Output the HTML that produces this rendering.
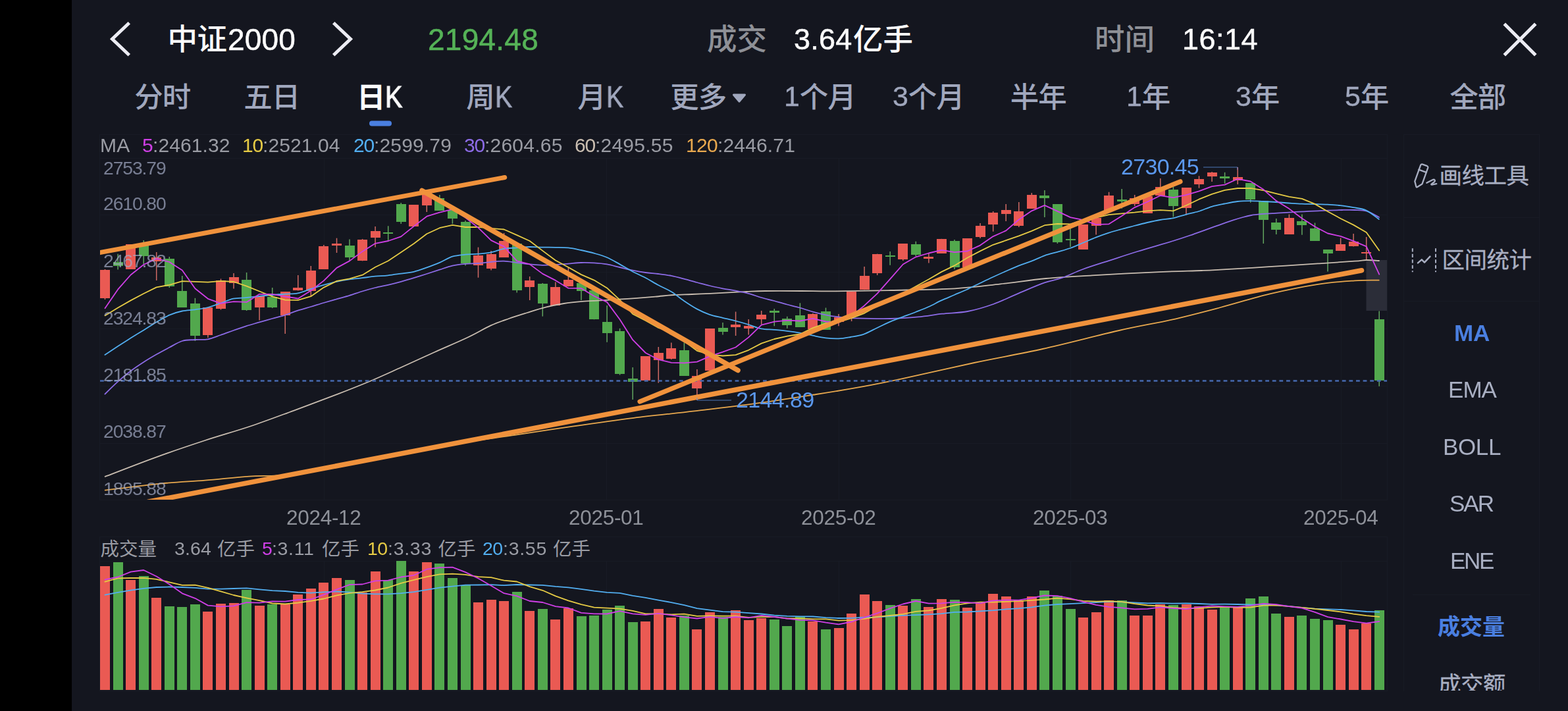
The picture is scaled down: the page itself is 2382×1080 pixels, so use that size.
<!DOCTYPE html>
<html lang="zh"><head><meta charset="utf-8"><title>中证2000 日K</title>
<style>
html,body{margin:0;padding:0;background:#000;}
body{width:2382px;height:1080px;position:relative;overflow:hidden;font-family:"Liberation Sans",sans-serif;}
#app{position:absolute;left:109px;top:0;width:2273px;height:1080px;background:#14161f;}
svg{position:absolute;left:0;top:0;}
svg text{font-family:"Liberation Sans","Noto Sans CJK SC",sans-serif;}
.t{position:absolute;white-space:nowrap;line-height:1;will-change:transform;}
</style></head><body>
<div id="app"></div>
<svg width="2382" height="1080" viewBox="0 0 2382 1080">
<defs><clipPath id="clipc"><rect x="152" y="205" width="1955" height="554"/></clipPath><clipPath id="clips"><rect x="2133" y="205" width="205" height="844"/></clipPath></defs>
<g shape-rendering="crispEdges">
<rect x="151.5" y="204.5" width="1956" height="555" fill="none" stroke="#181b25" stroke-width="1"/>
<line x1="152" y1="240" x2="2107" y2="240" stroke="#181b25" stroke-width="1" />
<line x1="152" y1="326.5" x2="2107" y2="326.5" stroke="#181b25" stroke-width="1" />
<line x1="152" y1="413" x2="2107" y2="413" stroke="#181b25" stroke-width="1" />
<line x1="152" y1="499.5" x2="2107" y2="499.5" stroke="#181b25" stroke-width="1" />
<line x1="152" y1="586" x2="2107" y2="586" stroke="#181b25" stroke-width="1" />
<line x1="152" y1="673" x2="2107" y2="673" stroke="#181b25" stroke-width="1" />
<line x1="492" y1="240" x2="492" y2="759" stroke="#181b25" stroke-width="1" />
<line x1="492" y1="852" x2="492" y2="1049" stroke="#181b25" stroke-width="1" />
<line x1="921" y1="240" x2="921" y2="759" stroke="#181b25" stroke-width="1" />
<line x1="921" y1="852" x2="921" y2="1049" stroke="#181b25" stroke-width="1" />
<line x1="1274" y1="240" x2="1274" y2="759" stroke="#181b25" stroke-width="1" />
<line x1="1274" y1="852" x2="1274" y2="1049" stroke="#181b25" stroke-width="1" />
<line x1="1626" y1="240" x2="1626" y2="759" stroke="#181b25" stroke-width="1" />
<line x1="1626" y1="852" x2="1626" y2="1049" stroke="#181b25" stroke-width="1" />
<line x1="2037" y1="240" x2="2037" y2="759" stroke="#181b25" stroke-width="1" />
<line x1="2037" y1="852" x2="2037" y2="1049" stroke="#181b25" stroke-width="1" />
<rect x="151.5" y="815.5" width="1956" height="234" fill="none" stroke="#181b25" stroke-width="1"/>
<line x1="152" y1="852" x2="2107" y2="852" stroke="#181b25" stroke-width="1" />
<path d="M2132.5 1049.5V204.5H2338.5V1049.5" fill="none" stroke="#181b25" stroke-width="1"/>
<line x1="2133" y1="330.5" x2="2338" y2="330.5" stroke="#181b25" stroke-width="1" />
<line x1="2133" y1="457.5" x2="2338" y2="457.5" stroke="#181b25" stroke-width="1" />
<line x1="2146" y1="903.5" x2="2325" y2="903.5" stroke="#181b25" stroke-width="1" />
</g>
<rect x="2075.5" y="395" width="31.5" height="77" fill="#2b2d38" />
<line x1="159.5" y1="409" x2="159.5" y2="455" stroke="#d06a64" stroke-width="1.5" />
<line x1="179.1" y1="385.8" x2="179.1" y2="409.4" stroke="#62a65f" stroke-width="1.5" />
<line x1="198.6" y1="371" x2="198.6" y2="408.6" stroke="#d06a64" stroke-width="1.5" />
<line x1="218.2" y1="365" x2="218.2" y2="401" stroke="#62a65f" stroke-width="1.5" />
<line x1="237.7" y1="383" x2="237.7" y2="426" stroke="#d06a64" stroke-width="1.5" />
<line x1="257.3" y1="390" x2="257.3" y2="437" stroke="#62a65f" stroke-width="1.5" />
<line x1="276.8" y1="419" x2="276.8" y2="467" stroke="#62a65f" stroke-width="1.5" />
<line x1="296.4" y1="452.8" x2="296.4" y2="518" stroke="#62a65f" stroke-width="1.5" />
<line x1="315.9" y1="466.7" x2="315.9" y2="513" stroke="#d06a64" stroke-width="1.5" />
<line x1="335.5" y1="423.5" x2="335.5" y2="470.5" stroke="#d06a64" stroke-width="1.5" />
<line x1="355" y1="415" x2="355" y2="438.6" stroke="#d06a64" stroke-width="1.5" />
<line x1="374.6" y1="414" x2="374.6" y2="472" stroke="#62a65f" stroke-width="1.5" />
<line x1="394.1" y1="449.5" x2="394.1" y2="486.4" stroke="#d06a64" stroke-width="1.5" />
<line x1="413.7" y1="437" x2="413.7" y2="468" stroke="#62a65f" stroke-width="1.5" />
<line x1="433.2" y1="443" x2="433.2" y2="507" stroke="#d06a64" stroke-width="1.5" />
<line x1="452.8" y1="418" x2="452.8" y2="441.5" stroke="#d06a64" stroke-width="1.5" />
<line x1="472.3" y1="404" x2="472.3" y2="450" stroke="#d06a64" stroke-width="1.5" />
<line x1="491.9" y1="372" x2="491.9" y2="408.6" stroke="#d06a64" stroke-width="1.5" />
<line x1="511.5" y1="361.7" x2="511.5" y2="384" stroke="#d06a64" stroke-width="1.5" />
<line x1="531" y1="363.6" x2="531" y2="397" stroke="#62a65f" stroke-width="1.5" />
<line x1="550.6" y1="363" x2="550.6" y2="396.4" stroke="#d06a64" stroke-width="1.5" />
<line x1="570.1" y1="344" x2="570.1" y2="375.5" stroke="#d06a64" stroke-width="1.5" />
<line x1="589.7" y1="343.3" x2="589.7" y2="367" stroke="#62a65f" stroke-width="1.5" />
<line x1="609.2" y1="308" x2="609.2" y2="340" stroke="#62a65f" stroke-width="1.5" />
<line x1="628.8" y1="311.4" x2="628.8" y2="343.6" stroke="#d06a64" stroke-width="1.5" />
<line x1="648.3" y1="288" x2="648.3" y2="322" stroke="#d06a64" stroke-width="1.5" />
<line x1="667.9" y1="296" x2="667.9" y2="319.7" stroke="#62a65f" stroke-width="1.5" />
<line x1="687.4" y1="312" x2="687.4" y2="340" stroke="#62a65f" stroke-width="1.5" />
<line x1="707" y1="335" x2="707" y2="403.6" stroke="#62a65f" stroke-width="1.5" />
<line x1="726.5" y1="375.6" x2="726.5" y2="421.7" stroke="#d06a64" stroke-width="1.5" />
<line x1="746.1" y1="381" x2="746.1" y2="410.6" stroke="#d06a64" stroke-width="1.5" />
<line x1="765.6" y1="354" x2="765.6" y2="390.8" stroke="#d06a64" stroke-width="1.5" />
<line x1="785.2" y1="368" x2="785.2" y2="444.4" stroke="#62a65f" stroke-width="1.5" />
<line x1="804.7" y1="420" x2="804.7" y2="456" stroke="#d06a64" stroke-width="1.5" />
<line x1="824.3" y1="430" x2="824.3" y2="480.6" stroke="#62a65f" stroke-width="1.5" />
<line x1="843.9" y1="428.6" x2="843.9" y2="464" stroke="#d06a64" stroke-width="1.5" />
<line x1="863.4" y1="406.4" x2="863.4" y2="435.3" stroke="#d06a64" stroke-width="1.5" />
<line x1="883" y1="428" x2="883" y2="456" stroke="#62a65f" stroke-width="1.5" />
<line x1="902.5" y1="440" x2="902.5" y2="485.3" stroke="#62a65f" stroke-width="1.5" />
<line x1="922.1" y1="464" x2="922.1" y2="519.7" stroke="#62a65f" stroke-width="1.5" />
<line x1="941.6" y1="498.8" x2="941.6" y2="569.6" stroke="#62a65f" stroke-width="1.5" />
<line x1="961.2" y1="558" x2="961.2" y2="607" stroke="#62a65f" stroke-width="1.5" />
<line x1="980.7" y1="541" x2="980.7" y2="579" stroke="#d06a64" stroke-width="1.5" />
<line x1="1000.3" y1="527" x2="1000.3" y2="581.6" stroke="#d06a64" stroke-width="1.5" />
<line x1="1019.8" y1="520.5" x2="1019.8" y2="546" stroke="#d06a64" stroke-width="1.5" />
<line x1="1039.4" y1="520.4" x2="1039.4" y2="570.5" stroke="#62a65f" stroke-width="1.5" />
<line x1="1058.9" y1="561" x2="1058.9" y2="608" stroke="#d06a64" stroke-width="1.5" />
<line x1="1078.5" y1="499.4" x2="1078.5" y2="563" stroke="#d06a64" stroke-width="1.5" />
<line x1="1098" y1="490" x2="1098" y2="508.4" stroke="#62a65f" stroke-width="1.5" />
<line x1="1117.6" y1="473.5" x2="1117.6" y2="510" stroke="#d06a64" stroke-width="1.5" />
<line x1="1137.2" y1="485" x2="1137.2" y2="508.4" stroke="#d06a64" stroke-width="1.5" />
<line x1="1156.7" y1="472" x2="1156.7" y2="492.7" stroke="#d06a64" stroke-width="1.5" />
<line x1="1176.3" y1="469" x2="1176.3" y2="495.3" stroke="#62a65f" stroke-width="1.5" />
<line x1="1195.8" y1="480.8" x2="1195.8" y2="498.7" stroke="#62a65f" stroke-width="1.5" />
<line x1="1215.4" y1="460.3" x2="1215.4" y2="497" stroke="#62a65f" stroke-width="1.5" />
<line x1="1234.9" y1="476" x2="1234.9" y2="499.7" stroke="#d06a64" stroke-width="1.5" />
<line x1="1254.5" y1="467.5" x2="1254.5" y2="500.6" stroke="#62a65f" stroke-width="1.5" />
<line x1="1274" y1="477" x2="1274" y2="495.3" stroke="#d06a64" stroke-width="1.5" />
<line x1="1293.6" y1="442.7" x2="1293.6" y2="488" stroke="#d06a64" stroke-width="1.5" />
<line x1="1313.1" y1="405" x2="1313.1" y2="440.2" stroke="#d06a64" stroke-width="1.5" />
<line x1="1332.7" y1="385.6" x2="1332.7" y2="418" stroke="#d06a64" stroke-width="1.5" />
<line x1="1352.2" y1="382" x2="1352.2" y2="402.8" stroke="#62a65f" stroke-width="1.5" />
<line x1="1371.8" y1="370" x2="1371.8" y2="396" stroke="#d06a64" stroke-width="1.5" />
<line x1="1391.3" y1="366.7" x2="1391.3" y2="389" stroke="#62a65f" stroke-width="1.5" />
<line x1="1410.9" y1="384.7" x2="1410.9" y2="399.4" stroke="#d06a64" stroke-width="1.5" />
<line x1="1430.4" y1="362.8" x2="1430.4" y2="384.7" stroke="#d06a64" stroke-width="1.5" />
<line x1="1450" y1="364" x2="1450" y2="409" stroke="#62a65f" stroke-width="1.5" />
<line x1="1469.6" y1="362" x2="1469.6" y2="406" stroke="#d06a64" stroke-width="1.5" />
<line x1="1489.1" y1="339" x2="1489.1" y2="362" stroke="#d06a64" stroke-width="1.5" />
<line x1="1508.7" y1="321" x2="1508.7" y2="351.7" stroke="#d06a64" stroke-width="1.5" />
<line x1="1528.2" y1="310" x2="1528.2" y2="336" stroke="#d06a64" stroke-width="1.5" />
<line x1="1547.8" y1="307" x2="1547.8" y2="345" stroke="#d06a64" stroke-width="1.5" />
<line x1="1567.3" y1="293" x2="1567.3" y2="316.7" stroke="#d06a64" stroke-width="1.5" />
<line x1="1586.9" y1="289" x2="1586.9" y2="330" stroke="#62a65f" stroke-width="1.5" />
<line x1="1606.4" y1="310" x2="1606.4" y2="370" stroke="#62a65f" stroke-width="1.5" />
<line x1="1626" y1="346.7" x2="1626" y2="375" stroke="#62a65f" stroke-width="1.5" />
<line x1="1645.5" y1="341" x2="1645.5" y2="378.6" stroke="#d06a64" stroke-width="1.5" />
<line x1="1665.1" y1="328" x2="1665.1" y2="356.4" stroke="#d06a64" stroke-width="1.5" />
<line x1="1684.6" y1="291.7" x2="1684.6" y2="321" stroke="#d06a64" stroke-width="1.5" />
<line x1="1704.2" y1="287" x2="1704.2" y2="316.7" stroke="#62a65f" stroke-width="1.5" />
<line x1="1723.7" y1="296" x2="1723.7" y2="313" stroke="#d06a64" stroke-width="1.5" />
<line x1="1743.3" y1="298" x2="1743.3" y2="324" stroke="#d06a64" stroke-width="1.5" />
<line x1="1762.8" y1="271" x2="1762.8" y2="297" stroke="#d06a64" stroke-width="1.5" />
<line x1="1782.4" y1="284" x2="1782.4" y2="329.4" stroke="#62a65f" stroke-width="1.5" />
<line x1="1802" y1="285" x2="1802" y2="326.5" stroke="#d06a64" stroke-width="1.5" />
<line x1="1821.5" y1="267.3" x2="1821.5" y2="285.6" stroke="#d06a64" stroke-width="1.5" />
<line x1="1841.1" y1="261" x2="1841.1" y2="276" stroke="#d06a64" stroke-width="1.5" />
<line x1="1860.6" y1="261.8" x2="1860.6" y2="278.8" stroke="#62a65f" stroke-width="1.5" />
<line x1="1880.2" y1="254" x2="1880.2" y2="280" stroke="#d06a64" stroke-width="1.5" />
<line x1="1899.7" y1="278" x2="1899.7" y2="307.8" stroke="#62a65f" stroke-width="1.5" />
<line x1="1919.3" y1="305" x2="1919.3" y2="370" stroke="#62a65f" stroke-width="1.5" />
<line x1="1938.8" y1="332" x2="1938.8" y2="356" stroke="#62a65f" stroke-width="1.5" />
<line x1="1958.4" y1="325.5" x2="1958.4" y2="356" stroke="#d06a64" stroke-width="1.5" />
<line x1="1977.9" y1="325.5" x2="1977.9" y2="356.7" stroke="#62a65f" stroke-width="1.5" />
<line x1="1997.5" y1="338.5" x2="1997.5" y2="366" stroke="#62a65f" stroke-width="1.5" />
<line x1="2017" y1="379" x2="2017" y2="412.6" stroke="#62a65f" stroke-width="1.5" />
<line x1="2036.6" y1="361.5" x2="2036.6" y2="381" stroke="#d06a64" stroke-width="1.5" />
<line x1="2056.1" y1="355" x2="2056.1" y2="374.4" stroke="#d06a64" stroke-width="1.5" />
<line x1="2075.7" y1="360" x2="2075.7" y2="395" stroke="#d06a64" stroke-width="1.5" />
<line x1="2095.2" y1="472.6" x2="2095.2" y2="586.7" stroke="#62a65f" stroke-width="1.5" />
<g shape-rendering="crispEdges">
<rect x="152" y="410.3" width="15" height="42.2" fill="#ea5a53" />
<rect x="171.6" y="397.8" width="15" height="6.1" fill="#52a84d" />
<rect x="191.1" y="371" width="15" height="37.6" fill="#ea5a53" />
<rect x="210.7" y="369" width="15" height="19.6" fill="#52a84d" />
<rect x="230.2" y="390.5" width="15" height="6.5" fill="#ea5a53" />
<rect x="249.8" y="392.8" width="15" height="42.5" fill="#52a84d" />
<rect x="269.3" y="442" width="15" height="25" fill="#52a84d" />
<rect x="288.9" y="460.6" width="15" height="49.1" fill="#52a84d" />
<rect x="308.4" y="466.7" width="15" height="42.5" fill="#ea5a53" />
<rect x="328" y="426" width="15" height="43" fill="#ea5a53" />
<rect x="347.5" y="421" width="15" height="8.5" fill="#ea5a53" />
<rect x="367.1" y="424.5" width="15" height="46.5" fill="#52a84d" />
<rect x="386.6" y="449.5" width="15" height="17.8" fill="#ea5a53" />
<rect x="406.2" y="451" width="15" height="16" fill="#52a84d" />
<rect x="425.7" y="443" width="15" height="35.5" fill="#ea5a53" />
<rect x="445.3" y="437" width="15" height="4" fill="#ea5a53" />
<rect x="464.8" y="411" width="15" height="31" fill="#ea5a53" />
<rect x="484.4" y="374" width="15" height="34.6" fill="#ea5a53" />
<rect x="504" y="369.7" width="15" height="2.8" fill="#ea5a53" />
<rect x="523.5" y="372.8" width="15" height="17.7" fill="#52a84d" />
<rect x="543.1" y="364.4" width="15" height="32" fill="#ea5a53" />
<rect x="562.6" y="350.5" width="15" height="10.5" fill="#ea5a53" />
<rect x="582.2" y="353.3" width="15" height="1.5" fill="#52a84d" />
<rect x="601.7" y="310" width="15" height="27" fill="#52a84d" />
<rect x="621.3" y="311.4" width="15" height="32.2" fill="#ea5a53" />
<rect x="640.8" y="290" width="15" height="21.7" fill="#ea5a53" />
<rect x="660.4" y="301" width="15" height="18.7" fill="#52a84d" />
<rect x="679.9" y="319" width="15" height="12.5" fill="#52a84d" />
<rect x="699.5" y="337" width="15" height="63" fill="#52a84d" />
<rect x="719" y="388.3" width="15" height="14.5" fill="#ea5a53" />
<rect x="738.6" y="386" width="15" height="21.8" fill="#ea5a53" />
<rect x="758.1" y="366" width="15" height="24.8" fill="#ea5a53" />
<rect x="777.7" y="370" width="15" height="71" fill="#52a84d" />
<rect x="797.2" y="425.8" width="15" height="10.2" fill="#ea5a53" />
<rect x="816.8" y="430.6" width="15" height="30" fill="#52a84d" />
<rect x="836.4" y="436" width="15" height="28" fill="#ea5a53" />
<rect x="855.9" y="425" width="15" height="10.3" fill="#ea5a53" />
<rect x="875.5" y="430" width="15" height="12" fill="#52a84d" />
<rect x="895" y="441" width="15" height="44.3" fill="#52a84d" />
<rect x="914.6" y="489.3" width="15" height="16.9" fill="#52a84d" />
<rect x="934.1" y="503" width="15" height="65.2" fill="#52a84d" />
<rect x="953.7" y="575.4" width="15" height="4.1" fill="#52a84d" />
<rect x="973.2" y="541" width="15" height="36.7" fill="#ea5a53" />
<rect x="992.8" y="536.3" width="15" height="10.7" fill="#ea5a53" />
<rect x="1012.3" y="529" width="15" height="16" fill="#ea5a53" />
<rect x="1031.9" y="532.3" width="15" height="38.2" fill="#52a84d" />
<rect x="1051.4" y="571" width="15" height="19" fill="#ea5a53" />
<rect x="1071" y="499.4" width="15" height="63.6" fill="#ea5a53" />
<rect x="1090.5" y="498.4" width="15" height="5.1" fill="#52a84d" />
<rect x="1110.1" y="493" width="15" height="3.7" fill="#ea5a53" />
<rect x="1129.7" y="494.9" width="15" height="4.5" fill="#ea5a53" />
<rect x="1149.2" y="477.6" width="15" height="6.9" fill="#ea5a53" />
<rect x="1168.8" y="471.5" width="15" height="3" fill="#52a84d" />
<rect x="1188.3" y="484" width="15" height="9.6" fill="#52a84d" />
<rect x="1207.9" y="478.6" width="15" height="18.4" fill="#52a84d" />
<rect x="1227.4" y="477" width="15" height="22.7" fill="#ea5a53" />
<rect x="1247" y="472.8" width="15" height="27.8" fill="#52a84d" />
<rect x="1266.5" y="481.5" width="15" height="7" fill="#ea5a53" />
<rect x="1286.1" y="442.7" width="15" height="35.8" fill="#ea5a53" />
<rect x="1305.6" y="419" width="15" height="21.2" fill="#ea5a53" />
<rect x="1325.2" y="385.6" width="15" height="29.1" fill="#ea5a53" />
<rect x="1344.7" y="387.8" width="15" height="2.2" fill="#52a84d" />
<rect x="1364.3" y="370" width="15" height="24" fill="#ea5a53" />
<rect x="1383.8" y="370.8" width="15" height="16.2" fill="#52a84d" />
<rect x="1403.4" y="389.7" width="15" height="3.3" fill="#ea5a53" />
<rect x="1422.9" y="362.8" width="15" height="21.9" fill="#ea5a53" />
<rect x="1442.5" y="366" width="15" height="39.8" fill="#52a84d" />
<rect x="1462.1" y="362" width="15" height="44" fill="#ea5a53" />
<rect x="1481.6" y="342.5" width="15" height="17.5" fill="#ea5a53" />
<rect x="1501.2" y="322.5" width="15" height="18.1" fill="#ea5a53" />
<rect x="1520.7" y="319.4" width="15" height="5.9" fill="#ea5a53" />
<rect x="1540.3" y="321" width="15" height="22" fill="#ea5a53" />
<rect x="1559.8" y="296" width="15" height="20.7" fill="#ea5a53" />
<rect x="1579.4" y="297" width="15" height="3.8" fill="#52a84d" />
<rect x="1598.9" y="310" width="15" height="57.5" fill="#52a84d" />
<rect x="1618.5" y="363.3" width="15" height="2" fill="#52a84d" />
<rect x="1638" y="341" width="15" height="37.6" fill="#ea5a53" />
<rect x="1657.6" y="331" width="15" height="11.5" fill="#ea5a53" />
<rect x="1677.1" y="296.7" width="15" height="24.3" fill="#ea5a53" />
<rect x="1696.7" y="303" width="15" height="2.8" fill="#52a84d" />
<rect x="1716.2" y="300.8" width="15" height="9.2" fill="#ea5a53" />
<rect x="1735.8" y="298" width="15" height="26" fill="#ea5a53" />
<rect x="1755.3" y="283.6" width="15" height="13.4" fill="#ea5a53" />
<rect x="1774.9" y="287.5" width="15" height="25.5" fill="#52a84d" />
<rect x="1794.5" y="285" width="15" height="30.6" fill="#ea5a53" />
<rect x="1814" y="272" width="15" height="7.7" fill="#ea5a53" />
<rect x="1833.6" y="262.3" width="15" height="5.7" fill="#ea5a53" />
<rect x="1853.1" y="267.5" width="15" height="3.2" fill="#52a84d" />
<rect x="1872.7" y="269" width="15" height="4.7" fill="#ea5a53" />
<rect x="1892.2" y="278" width="15" height="25.3" fill="#52a84d" />
<rect x="1911.8" y="305" width="15" height="28.7" fill="#52a84d" />
<rect x="1931.3" y="338" width="15" height="11" fill="#52a84d" />
<rect x="1950.9" y="330.7" width="15" height="25.3" fill="#ea5a53" />
<rect x="1970.4" y="336" width="15" height="6" fill="#52a84d" />
<rect x="1990" y="346.7" width="15" height="19.3" fill="#52a84d" />
<rect x="2009.5" y="379" width="15" height="6" fill="#52a84d" />
<rect x="2029.1" y="370.7" width="15" height="10.3" fill="#ea5a53" />
<rect x="2048.6" y="367" width="15" height="7.4" fill="#ea5a53" />
<rect x="2068.2" y="382.6" width="15" height="2.4" fill="#ea5a53" />
<rect x="2087.7" y="484.8" width="15" height="93.2" fill="#52a84d" />
</g>
<g clip-path="url(#clipc)">
<path d="M159.7 744.7C173.8 743 218.7 737.1 244 734.6C269.3 732.1 289.1 731.4 311.5 729.6C333.9 727.8 356.3 725.2 378.7 723.6C401.1 722 412.4 724.6 446 719.8C479.6 714.9 540.8 701.8 580 694.5C619.2 687.2 647.4 681.4 681 675.8C714.6 670.2 750.2 665.5 781.7 660.8C813.2 656.1 839.9 651.9 870 647.6C900.1 643.3 931.8 638.8 962.6 634.9C993.4 631 1024.1 628.1 1055 624.4C1085.9 620.7 1117 617.1 1147.8 612.9C1178.6 608.7 1213 603.2 1240 599C1267 594.8 1288.1 591.3 1309.8 587.4C1331.5 583.5 1341.6 581.5 1370 575.4C1398.4 569.3 1444.3 558.6 1480 551C1515.7 543.4 1547.3 538.2 1584 530C1620.7 521.8 1667.3 509.4 1700 502C1732.7 494.6 1754.3 491.4 1780 485.6C1805.7 479.8 1829.3 473.5 1854 467C1878.7 460.5 1903.3 452.6 1928 446.7C1952.7 440.8 1980.4 435.3 2002 431.9C2023.6 428.5 2042.3 427.4 2057.8 426.3C2073.3 425.2 2088.6 425.7 2094.8 425.6" fill="none" stroke="#e8a84e" stroke-width="1.8" stroke-linejoin="round" stroke-linecap="round" />
<path d="M159.7 723.9C172.7 719 212.3 703.4 237.6 694.3C262.9 685.1 288 676.7 311.5 669C335 661.3 356.3 655.5 378.7 648C401.1 640.5 423.5 632 445.9 623.8C468.3 615.6 493.4 606.1 513 598.6C532.6 591.1 547.2 585.3 563.4 578.5C579.6 571.7 593.9 565 610 557.8C626.1 550.5 643.3 542.5 660 535C676.7 527.5 695.7 519.6 710 512.8C724.3 506 735.1 499.2 745.6 494.4C756.1 489.6 763.8 487.2 773 484C782.2 480.8 791.7 477.9 801 475C810.3 472.1 819.7 469 829 466.7C838.3 464.4 847.5 462.5 856.7 461C865.9 459.5 875.2 458.6 884.4 457.8C893.6 457 902.7 456.9 912 456.4C921.3 455.9 930.7 455.3 940 454.7C949.3 454.1 958.5 453.5 967.8 452.8C977.1 452.1 986.4 451.4 995.6 450.6C1004.9 449.8 1014.1 448.6 1023.3 448C1032.5 447.4 1041.7 447.4 1051 447C1060.3 446.6 1069.7 446.2 1079 445.8C1088.3 445.4 1097.5 444.9 1106.7 444.4C1115.9 443.9 1125.2 443.4 1134.4 443C1143.6 442.6 1148.1 442.2 1162 442C1175.9 441.8 1199.8 441.9 1217.8 442C1235.8 442.1 1247.5 442.5 1270 442.3C1292.5 442.1 1322.9 441.7 1353 441C1383.1 440.3 1422.8 439.9 1450.6 438.3C1478.4 436.7 1496.9 433.9 1520 431.4C1543.1 428.8 1565.8 425.2 1589 423C1612.2 420.8 1631.2 419.9 1659 418.3C1686.8 416.7 1728.2 414.5 1756 413.3C1783.8 412.1 1809.3 411.6 1825.6 411C1841.9 410.4 1836.9 410.6 1854 409.6C1871.1 408.6 1903.3 406.7 1928 405.2C1952.7 403.7 1980.4 401.8 2002 400.4C2023.6 399 2045.5 397.6 2057.8 396.7C2070.1 395.8 2069.8 395.1 2076 395C2082.2 394.9 2091.8 395.8 2095 396" fill="none" stroke="#c9bdb0" stroke-width="1.8" stroke-linejoin="round" stroke-linecap="round" />
<path d="M159.4 598.6C162.7 595.4 172.8 585.3 179.4 579.4C186 573.5 192.4 568.2 198.9 563.3C205.4 558.4 211.8 554.2 218.3 550C224.8 545.8 231.3 542 237.8 538.3C244.3 534.6 250.7 531.2 257.2 527.8C263.7 524.4 270.2 520 276.7 518C283.2 516 289.5 516.5 296 516C302.5 515.5 309.1 516.5 315.6 515.3C322.1 514.1 328.5 511.2 335 509C341.5 506.8 347.9 504.3 354.4 502C360.9 499.7 367.4 497.4 373.9 495.3C380.4 493.2 386.7 491.6 393.3 489.7C399.9 487.8 406.7 485.9 413.3 484C419.9 482.1 426.5 480.7 433 478.6C439.5 476.6 446 473.8 452.5 471.7C459 469.6 465.5 467.9 472 466C478.5 464.1 485.1 461.9 491.7 460C498.3 458.1 504.9 456.2 511.4 454.4C517.9 452.5 524.3 450.9 530.8 448.9C537.3 446.9 543.8 444.5 550.3 442.5C556.8 440.5 563.5 438.6 570 437C576.5 435.4 582.9 434.3 589.4 432.8C595.9 431.3 602.7 429.6 609.2 427.8C615.7 426 622.1 424.2 628.6 422.2C635.1 420.2 641.8 418.1 648.3 416C654.8 413.9 661.3 411.8 667.8 409.7C674.3 407.6 680.7 405.1 687.2 403.6C693.7 402.1 700.5 401.4 707 400.8C713.5 400.2 719.9 400.5 726.4 400C732.9 399.5 739.5 398.4 746 397.8C752.5 397.2 759 396.5 765.5 396.7C772 396.9 778.5 398.2 785 399C791.5 399.8 798.1 400.8 804.6 401.4C811.1 402 817.5 402.7 824 402.8C830.5 402.9 837.2 402.4 843.7 402C850.2 401.6 856.8 401.1 863.3 400.6C869.8 400.1 876.3 399.2 882.8 399C889.3 398.8 895.9 399 902.4 399.4C908.9 399.8 915.5 400.3 922 401.4C928.5 402.5 935 404.5 941.5 406C948 407.5 954.5 409.3 961 410.6C967.5 411.9 974.1 413.1 980.6 414C987.1 414.9 993.5 415.2 1000 416C1006.5 416.8 1013.2 417.6 1019.7 418.9C1026.2 420.2 1032.5 421.9 1039 423.6C1045.5 425.3 1052.3 427.3 1058.8 429C1065.3 430.7 1071.5 432.4 1078 434C1084.5 435.6 1091.4 437 1098 438.3C1104.6 439.6 1111 440.4 1117.5 441.7C1124 442.9 1130.5 444.1 1137 445.8C1143.5 447.5 1150.1 450.1 1156.6 452C1163.1 453.9 1169.5 455.2 1176 457C1182.5 458.8 1189.1 460.8 1195.6 462.5C1202.1 464.2 1208.5 465.6 1215 467.5C1221.5 469.4 1228.2 471.8 1234.7 473.6C1241.2 475.4 1247.8 477 1254.3 478.3C1260.8 479.6 1266.7 480.6 1273.9 481.4C1281.2 482.2 1284.6 482.9 1297.8 483.3C1311 483.7 1336.8 484.3 1353 484C1369.2 483.7 1382 482.6 1395 481.4C1408 480.2 1418.5 478.1 1431 476.7C1443.5 475.3 1457 475.4 1470 473C1483 470.6 1496 466.6 1509 462C1522 457.4 1534.8 450.7 1547.8 445.3C1560.8 439.9 1575.6 433.3 1586.7 429.4C1597.8 425.5 1604.7 425.1 1614.4 421.7C1624.1 418.3 1633 413.4 1645 409C1657 404.6 1672.9 399.8 1686.7 395.3C1700.5 390.8 1712.1 386.9 1728 382C1743.9 377.1 1768.7 370.1 1782 366C1795.3 361.9 1799.6 360.4 1808 357.5C1816.4 354.6 1825 351.4 1832.3 348.8C1839.6 346.2 1845.3 344.2 1852 341.8C1858.7 339.4 1866.6 336.7 1872.6 334.7C1878.6 332.7 1883.3 331.3 1888 330C1892.7 328.7 1896.1 327.8 1900.8 327C1905.5 326.2 1910.6 325.7 1916 325.2C1921.4 324.7 1923.5 324.8 1933 324.2C1942.5 323.6 1961.8 322.2 1973.3 321.6C1984.8 321 1991 320.7 2002 320.3C2013 319.9 2029.7 319.2 2039 319C2048.3 318.8 2051.6 318.7 2057.8 319C2064 319.3 2069.8 318.9 2076 320.7C2082.2 322.5 2091.8 328.4 2095 330" fill="none" stroke="#8c6be6" stroke-width="1.8" stroke-linejoin="round" stroke-linecap="round" />
<path d="M159.4 538.9C162.7 536.7 172.8 530.1 179.4 525.8C186 521.5 192.4 517.4 198.9 513.3C205.4 509.2 211.8 505.4 218.3 501.4C224.8 497.4 231.3 493 237.8 489.2C244.3 485.4 250.7 481.4 257.2 478.6C263.7 475.8 270.2 473.9 276.7 472.5C283.2 471.1 289.5 471.2 296 470.3C302.5 469.4 309.1 468.6 315.6 467C322.1 465.4 328.5 462.8 335 460.6C341.5 458.4 347.9 455 354.4 453.6C360.9 452.2 367.4 452.8 373.9 452.2C380.4 451.6 386.7 450.7 393.3 450C399.9 449.3 406.7 448.6 413.3 448C419.9 447.4 426.5 447.1 433 446.7C439.5 446.2 446 446.6 452.5 445.3C459 444 465.5 441 472 438.9C478.5 436.8 485.1 434.6 491.7 432.8C498.3 431 504.9 429.2 511.4 427.8C517.9 426.4 524.3 425.3 530.8 424.4C537.3 423.5 543.8 423 550.3 422.2C556.8 421.4 563.5 420.3 570 419.7C576.5 419.1 582.9 419 589.4 418.3C595.9 417.6 602.7 416.5 609.2 415.6C615.7 414.7 622.1 414.3 628.6 412.8C635.1 411.3 641.8 408.7 648.3 406.4C654.8 404.1 661.3 401.7 667.8 398.9C674.3 396.1 680.7 391.7 687.2 389.7C693.7 387.7 700.5 387.4 707 386.7C713.5 386 719.9 386.2 726.4 385.6C732.9 385 739.5 384.6 746 383.3C752.5 382 759 379 765.5 377.8C772 376.6 778.5 376.9 785 376.4C791.5 375.9 798.1 375.1 804.6 375C811.1 374.9 817.5 375.5 824 375.6C830.5 375.7 837.2 375.7 843.7 375.8C850.2 375.9 856.8 375.7 863.3 376.4C869.8 377.1 876.3 378.6 882.8 380C889.3 381.4 895.9 382.9 902.4 384.7C908.9 386.5 915.5 388.2 922 391C928.5 393.8 935 397.8 941.5 401.4C948 405 954.5 409.1 961 412.5C967.5 415.9 974.1 418.6 980.6 422C987.1 425.4 993.5 429.5 1000 433C1006.5 436.5 1013.2 439 1019.7 443C1026.2 447 1032.5 452.6 1039 457C1045.5 461.4 1052.3 465.9 1058.8 469.4C1065.3 472.9 1071.5 475.6 1078 477.8C1084.5 480 1091.4 481.2 1098 482.8C1104.6 484.4 1111 485.8 1117.5 487.5C1124 489.2 1130.5 491 1137 493C1143.5 495 1150.1 498.1 1156.6 499.4C1163.1 500.7 1169.5 500.2 1176 500.8C1182.5 501.4 1189.1 502 1195.6 502.8C1202.1 503.6 1208.5 504.5 1215 505.6C1221.5 506.8 1228.2 508.4 1234.7 509.7C1241.2 511 1247.8 512.5 1254.3 513.3C1260.8 514.1 1267.6 514.6 1273.9 514.4C1280.2 514.2 1285.7 513.1 1292 512C1298.3 510.9 1305 510.1 1311.7 507.8C1318.5 505.5 1325.6 501.2 1332.5 498C1339.4 494.8 1346.5 491.1 1353 488.3C1359.5 485.5 1365.1 483.8 1371.4 481.4C1377.7 479 1384.5 476.6 1391 474C1397.5 471.4 1404.1 468.9 1410.6 466C1417.1 463.1 1423.5 459.4 1430 456.4C1436.5 453.4 1443.2 450.8 1449.7 448C1456.2 445.2 1462.5 442.7 1469 439.7C1475.5 436.7 1482.5 433.1 1489 430C1495.5 426.9 1501.5 424 1508 421C1514.5 418 1521.4 414.9 1528 412C1534.6 409.1 1541 406.2 1547.5 403.6C1554 401.1 1560.5 399.2 1567 396.7C1573.5 394.1 1580.2 390.6 1586.7 388.3C1593.2 386 1599.5 384.7 1606 382.8C1612.5 380.9 1619.1 379.3 1625.6 377C1632.1 374.7 1638.5 371.7 1645 369C1651.5 366.3 1658.1 363.2 1664.7 360.6C1671.3 358 1677.9 355.7 1684.4 353.6C1691 351.5 1697.6 349.8 1704 348C1710.4 346.2 1716.5 344.7 1723 343C1729.5 341.3 1736.4 339.5 1743 338C1749.6 336.5 1756 335.1 1762.5 334C1769 332.9 1775.5 332.8 1782 331.4C1788.5 330 1795.2 327.5 1801.7 325.8C1808.2 324.1 1814.5 323 1821 321C1827.5 319 1834.3 315.7 1840.8 313.8C1847.3 311.9 1853.5 310.8 1860 309.5C1866.5 308.2 1873.5 306.7 1880 306C1886.5 305.3 1892.5 305.2 1899 305.2C1905.5 305.2 1912.4 305.7 1919 306C1925.6 306.3 1932 306.6 1938.5 307C1945 307.4 1951.5 308.1 1958 308.5C1964.5 308.9 1971.3 309.4 1977.8 309.6C1984.3 309.9 1990.5 309.8 1997 310C2003.5 310.2 2010.2 310.3 2016.7 310.7C2023.2 311.1 2029.8 311.4 2036.3 312.2C2042.8 312.9 2049.5 314 2056 315.2C2062.5 316.4 2069 316.6 2075.5 319.6C2082 322.6 2091.6 330.8 2094.8 333" fill="none" stroke="#52aef0" stroke-width="1.8" stroke-linejoin="round" stroke-linecap="round" />
<path d="M159.5 479.4L179.1 467.5L198.6 456.4L218.2 446L237.7 436.4L257.3 432.8L276.8 427.2L296.4 427.8L315.9 428.6L335.5 426.9L355 428L374.6 434.7L394.1 442.5L413.7 450.4L433.2 455.6L452.8 455.8L472.3 450.2L491.9 436.6L511.5 426.9L531 423.4L550.6 417.7L570.1 405.7L589.7 396.2L609.2 383.2L628.8 370L648.3 355.3L667.9 346.2L687.4 341.9L707 345L726.5 344.8L746.1 346.9L765.6 348.5L785.2 357.1L804.7 366L824.3 380.9L843.9 395.5L863.4 406L883 417.1L902.5 425.6L922.1 437.4L941.6 455.6L961.2 477L980.7 487L1000.3 498L1019.8 504.9L1039.4 518.3L1058.9 532.9L1078.5 538.6L1098 540.5L1117.6 539.1L1137.2 531.8L1156.7 521.6L1176.3 515L1195.8 510.7L1215.4 507.5L1234.9 498.1L1254.5 491.1L1274 489.3L1293.6 483.2L1313.1 475.8L1332.7 464.9L1352.2 456.1L1371.8 445.7L1391.3 435L1410.9 424.3L1430.4 412.9L1450 403.4L1469.6 391.5L1489.1 381.4L1508.7 371.8L1528.2 365.2L1547.8 358.3L1567.3 350.9L1586.9 342.2L1606.4 340L1626 340.3L1645.5 333.8L1665.1 330.7L1684.6 326.1L1704.2 324.4L1723.7 322.6L1743.3 320.3L1762.8 319.1L1782.4 320.3L1802 312L1821.5 302.7L1841.1 294.8L1860.6 288.8L1880.2 286L1899.7 285.8L1919.3 289.1L1938.8 294.2L1958.4 298.9L1977.9 301.8L1997.5 309.9L2017 321.2L2036.6 332L2056.1 341.6L2075.7 353L2095.2 380.5" fill="none" stroke="#e6cb45" stroke-width="1.8" stroke-linejoin="round" stroke-linecap="round" />
<path d="M159.5 468.3L179.1 439.7L198.6 417.5L218.2 402L237.7 392.9L257.3 397.9L276.8 410.5L296.4 438.2L315.9 453.8L335.5 460.9L355 458.1L374.6 458.9L394.1 446.8L413.7 446.9L433.2 450.3L452.8 453.5L472.3 441.5L491.9 426.4L511.5 406.9L531 396.4L550.6 381.9L570.1 369.8L589.7 366L609.2 359.4L628.8 343.6L648.3 328.7L667.9 322.6L687.4 317.9L707 330.5L726.5 345.9L746.1 365.1L765.6 374.4L785.2 396.3L804.7 401.4L824.3 415.9L843.9 425.9L863.4 437.7L883 437.9L902.5 449.8L922.1 458.9L941.6 485.3L961.2 516.2L980.7 536L1000.3 546.2L1019.8 550.8L1039.4 551.3L1058.9 549.6L1078.5 541.2L1098 534.7L1117.6 527.5L1137.2 512.4L1156.7 493.7L1176.3 488.7L1195.8 486.7L1215.4 487.5L1234.9 483.9L1254.5 488.5L1274 489.9L1293.6 479.8L1313.1 464.2L1332.7 445.9L1352.2 423.8L1371.8 401.5L1391.3 390.3L1410.9 384.5L1430.4 379.9L1450 383.1L1469.6 381.5L1489.1 372.6L1508.7 359.1L1528.2 350.4L1547.8 333.5L1567.3 320.3L1586.9 311.9L1606.4 320.9L1626 330.1L1645.5 334.1L1665.1 341.1L1684.6 340.3L1704.2 328L1723.7 315.1L1743.3 306.5L1762.8 297L1782.4 300.2L1802 296.1L1821.5 290.3L1841.1 283.2L1860.6 280.6L1880.2 271.8L1899.7 275.5L1919.3 287.8L1938.8 305.1L1958.4 317.1L1977.9 331.7L1997.5 344.3L2017 354.5L2036.6 358.9L2056.1 366.1L2075.7 374.3L2095.2 416.7" fill="none" stroke="#cf3fe6" stroke-width="1.8" stroke-linejoin="round" stroke-linecap="round" />
<line x1="152" y1="578.6" x2="2107" y2="578.6" stroke="#4569b0" stroke-width="2.5" stroke-dasharray="5.8 4.8"/>
<line x1="152" y1="383.6" x2="766.7" y2="269.5" stroke="#f0923c" stroke-width="7.0" stroke-linecap="round"/>
<line x1="641" y1="289.5" x2="1121" y2="562.5" stroke="#f0923c" stroke-width="7.6" stroke-linecap="round"/>
<line x1="972" y1="610" x2="1793" y2="275.8" stroke="#f0923c" stroke-width="7.2" stroke-linecap="round"/>
<line x1="225" y1="762.3" x2="2068.5" y2="410.7" stroke="#f0923c" stroke-width="7.5" stroke-linecap="round"/>
</g>
<line x1="1828" y1="254" x2="1880" y2="254" stroke="#5b8fe0" stroke-width="0.8" />
<line x1="1059" y1="608" x2="1111" y2="608" stroke="#5b8fe0" stroke-width="0.8" />
<line x1="1879.9" y1="254" x2="1879.9" y2="258" stroke="#5b8fe0" stroke-width="0.8" />
<line x1="1058.8" y1="604" x2="1058.8" y2="608" stroke="#5b8fe0" stroke-width="0.8" />
<g shape-rendering="crispEdges">
<rect x="152" y="860.2" width="15" height="187.4" fill="#ea5a53" />
<rect x="171.6" y="853.7" width="15" height="193.9" fill="#52a84d" />
<rect x="191.1" y="880.9" width="15" height="166.7" fill="#ea5a53" />
<rect x="210.7" y="874.7" width="15" height="172.9" fill="#52a84d" />
<rect x="230.2" y="907.9" width="15" height="139.7" fill="#ea5a53" />
<rect x="249.8" y="920.8" width="15" height="126.8" fill="#52a84d" />
<rect x="269.3" y="922.4" width="15" height="125.2" fill="#52a84d" />
<rect x="288.9" y="918" width="15" height="129.6" fill="#52a84d" />
<rect x="308.4" y="928.9" width="15" height="118.7" fill="#ea5a53" />
<rect x="328" y="916.7" width="15" height="130.9" fill="#ea5a53" />
<rect x="347.5" y="915.9" width="15" height="131.7" fill="#ea5a53" />
<rect x="367.1" y="896.4" width="15" height="151.2" fill="#52a84d" />
<rect x="386.6" y="920" width="15" height="127.6" fill="#ea5a53" />
<rect x="406.2" y="918" width="15" height="129.6" fill="#52a84d" />
<rect x="425.7" y="918" width="15" height="129.6" fill="#ea5a53" />
<rect x="445.3" y="902.7" width="15" height="144.9" fill="#ea5a53" />
<rect x="464.8" y="893.9" width="15" height="153.7" fill="#ea5a53" />
<rect x="484.4" y="884.5" width="15" height="163.1" fill="#ea5a53" />
<rect x="504" y="877.8" width="15" height="169.8" fill="#ea5a53" />
<rect x="523.5" y="881.4" width="15" height="166.2" fill="#52a84d" />
<rect x="543.1" y="899.8" width="15" height="147.8" fill="#ea5a53" />
<rect x="562.6" y="868.4" width="15" height="179.2" fill="#ea5a53" />
<rect x="582.2" y="880.9" width="15" height="166.7" fill="#52a84d" />
<rect x="601.7" y="851.9" width="15" height="195.7" fill="#52a84d" />
<rect x="621.3" y="867.9" width="15" height="179.7" fill="#ea5a53" />
<rect x="640.8" y="854.4" width="15" height="193.2" fill="#ea5a53" />
<rect x="660.4" y="855.7" width="15" height="191.9" fill="#52a84d" />
<rect x="679.9" y="878.3" width="15" height="169.3" fill="#52a84d" />
<rect x="699.5" y="889.4" width="15" height="158.2" fill="#52a84d" />
<rect x="719" y="914.6" width="15" height="133" fill="#ea5a53" />
<rect x="738.6" y="910.7" width="15" height="136.9" fill="#ea5a53" />
<rect x="758.1" y="912.8" width="15" height="134.8" fill="#ea5a53" />
<rect x="777.7" y="899.3" width="15" height="148.3" fill="#52a84d" />
<rect x="797.2" y="927.6" width="15" height="120" fill="#ea5a53" />
<rect x="816.8" y="924.7" width="15" height="122.9" fill="#52a84d" />
<rect x="836.4" y="941.3" width="15" height="106.3" fill="#ea5a53" />
<rect x="855.9" y="924.4" width="15" height="123.2" fill="#ea5a53" />
<rect x="875.5" y="936.1" width="15" height="111.5" fill="#52a84d" />
<rect x="895" y="934.8" width="15" height="112.8" fill="#52a84d" />
<rect x="914.6" y="925.7" width="15" height="121.9" fill="#52a84d" />
<rect x="934.1" y="920" width="15" height="127.6" fill="#52a84d" />
<rect x="953.7" y="944.7" width="15" height="102.9" fill="#52a84d" />
<rect x="973.2" y="943.9" width="15" height="103.7" fill="#ea5a53" />
<rect x="992.8" y="925.2" width="15" height="122.4" fill="#ea5a53" />
<rect x="1012.3" y="937.7" width="15" height="109.9" fill="#ea5a53" />
<rect x="1031.9" y="934.8" width="15" height="112.8" fill="#52a84d" />
<rect x="1051.4" y="956.1" width="15" height="91.5" fill="#ea5a53" />
<rect x="1071" y="930.2" width="15" height="117.4" fill="#ea5a53" />
<rect x="1090.5" y="937.4" width="15" height="110.2" fill="#52a84d" />
<rect x="1110.1" y="926.5" width="15" height="121.1" fill="#ea5a53" />
<rect x="1129.7" y="941.8" width="15" height="105.8" fill="#ea5a53" />
<rect x="1149.2" y="938.7" width="15" height="108.9" fill="#ea5a53" />
<rect x="1168.8" y="940.8" width="15" height="106.8" fill="#52a84d" />
<rect x="1188.3" y="950.9" width="15" height="96.7" fill="#52a84d" />
<rect x="1207.9" y="936.6" width="15" height="111" fill="#52a84d" />
<rect x="1227.4" y="944.4" width="15" height="103.2" fill="#ea5a53" />
<rect x="1247" y="955.8" width="15" height="91.8" fill="#52a84d" />
<rect x="1266.5" y="953.7" width="15" height="93.9" fill="#ea5a53" />
<rect x="1286.1" y="932.2" width="15" height="115.4" fill="#ea5a53" />
<rect x="1305.6" y="903.2" width="15" height="144.4" fill="#ea5a53" />
<rect x="1325.2" y="912.8" width="15" height="134.8" fill="#ea5a53" />
<rect x="1344.7" y="919.3" width="15" height="128.3" fill="#52a84d" />
<rect x="1364.3" y="919.8" width="15" height="127.8" fill="#ea5a53" />
<rect x="1383.8" y="909.9" width="15" height="137.7" fill="#52a84d" />
<rect x="1403.4" y="921.9" width="15" height="125.7" fill="#ea5a53" />
<rect x="1422.9" y="910.4" width="15" height="137.2" fill="#ea5a53" />
<rect x="1442.5" y="911" width="15" height="136.6" fill="#52a84d" />
<rect x="1462.1" y="922.9" width="15" height="124.7" fill="#ea5a53" />
<rect x="1481.6" y="915.9" width="15" height="131.7" fill="#ea5a53" />
<rect x="1501.2" y="901.9" width="15" height="145.7" fill="#ea5a53" />
<rect x="1520.7" y="905.8" width="15" height="141.8" fill="#ea5a53" />
<rect x="1540.3" y="912" width="15" height="135.6" fill="#ea5a53" />
<rect x="1559.8" y="905.8" width="15" height="141.8" fill="#ea5a53" />
<rect x="1579.4" y="897.2" width="15" height="150.4" fill="#52a84d" />
<rect x="1598.9" y="904.5" width="15" height="143.1" fill="#52a84d" />
<rect x="1618.5" y="925.2" width="15" height="122.4" fill="#52a84d" />
<rect x="1638" y="937.9" width="15" height="109.7" fill="#ea5a53" />
<rect x="1657.6" y="929.9" width="15" height="117.7" fill="#ea5a53" />
<rect x="1677.1" y="911.5" width="15" height="136.1" fill="#ea5a53" />
<rect x="1696.7" y="912.3" width="15" height="135.3" fill="#52a84d" />
<rect x="1716.2" y="935.1" width="15" height="112.5" fill="#ea5a53" />
<rect x="1735.8" y="935.1" width="15" height="112.5" fill="#ea5a53" />
<rect x="1755.3" y="918" width="15" height="129.6" fill="#ea5a53" />
<rect x="1774.9" y="919.3" width="15" height="128.3" fill="#52a84d" />
<rect x="1794.5" y="918" width="15" height="129.6" fill="#ea5a53" />
<rect x="1814" y="921.1" width="15" height="126.5" fill="#ea5a53" />
<rect x="1833.6" y="925.7" width="15" height="121.9" fill="#ea5a53" />
<rect x="1853.1" y="922.4" width="15" height="125.2" fill="#52a84d" />
<rect x="1872.7" y="921.9" width="15" height="125.7" fill="#ea5a53" />
<rect x="1892.2" y="908.6" width="15" height="139" fill="#52a84d" />
<rect x="1911.8" y="905.8" width="15" height="141.8" fill="#52a84d" />
<rect x="1931.3" y="932" width="15" height="115.6" fill="#52a84d" />
<rect x="1950.9" y="937.4" width="15" height="110.2" fill="#ea5a53" />
<rect x="1970.4" y="934.6" width="15" height="113" fill="#52a84d" />
<rect x="1990" y="939.7" width="15" height="107.9" fill="#52a84d" />
<rect x="2009.5" y="941.6" width="15" height="106" fill="#52a84d" />
<rect x="2029.1" y="949.3" width="15" height="98.3" fill="#ea5a53" />
<rect x="2048.6" y="955.8" width="15" height="91.8" fill="#ea5a53" />
<rect x="2068.2" y="946.7" width="15" height="100.9" fill="#ea5a53" />
<rect x="2087.7" y="926.5" width="15" height="121.1" fill="#52a84d" />
</g>
<path d="M159.5 903.7L179.1 899.8L198.6 896.7L218.2 893.9L237.7 892L257.3 891.5L276.8 892L296.4 892.8L315.9 894.6L335.5 894.6L355 894L374.6 893.3L394.1 895.4L413.7 897.2L433.2 898L452.8 899.8L472.3 900.6L491.9 899.3L511.5 898.5L531 899.6L550.6 901.6L570.1 902.4L589.7 902.4L609.2 901.2L628.8 899.2L648.3 895.9L667.9 892.6L687.4 890.6L707 888.6L726.5 888.5L746.1 888.2L765.6 889.1L785.2 888L804.7 888.5L824.3 888.8L843.9 890.8L863.4 892.3L883 894.9L902.5 897.7L922.1 899.9L941.6 900.9L961.2 904.8L980.7 907.9L1000.3 911.6L1019.8 915.1L1039.4 919.1L1058.9 924.1L1078.5 926.7L1098 929.1L1117.6 929.7L1137.2 931.2L1156.7 932.5L1176.3 934.6L1195.8 935.8L1215.4 936.4L1234.9 936.5L1254.5 938.1L1274 939L1293.6 938.9L1313.1 937.7L1332.7 937.4L1352.2 936.1L1371.8 934.9L1391.3 934.1L1410.9 933.3L1430.4 932.1L1450 929.9L1469.6 929.5L1489.1 928.4L1508.7 927.2L1528.2 925.4L1547.8 924.1L1567.3 922.3L1586.9 919.6L1606.4 918L1626 917.1L1645.5 916.2L1665.1 915L1684.6 913.9L1704.2 914.4L1723.7 915.5L1743.3 916.3L1762.8 916.2L1782.4 916.7L1802 916.5L1821.5 917L1841.1 917.8L1860.6 917.7L1880.2 918L1899.7 918.4L1919.3 918.4L1938.8 919.4L1958.4 920.9L1977.9 922.8L1997.5 924.6L2017 925.4L2036.6 926L2056.1 927.3L2075.7 929L2095.2 929.7" fill="none" stroke="#52aef0" stroke-width="1.8" stroke-linejoin="round" stroke-linecap="round" />
<path d="M159.5 883.7L179.1 878.3L198.6 878L218.2 877.8L237.7 879.9L257.3 884.3L276.8 888.9L296.4 888.7L315.9 892.8L335.5 898.4L355 904L374.6 908.3L394.1 912.2L413.7 916.5L433.2 917.5L452.8 915.7L472.3 912.9L491.9 909.5L511.5 904.4L531 900.9L550.6 899.2L570.1 896.5L589.7 892.5L609.2 885.9L628.8 880.9L648.3 876.1L667.9 872.3L687.4 871.6L707 872.8L726.5 876.1L746.1 877.2L765.6 881.7L785.2 883.5L804.7 891.1L824.3 896.8L843.9 905.4L863.4 912.3L883 918.1L902.5 922.6L922.1 923.7L941.6 924.7L961.2 927.9L980.7 932.3L1000.3 932.1L1019.8 933.4L1039.4 932.7L1058.9 935.9L1078.5 935.3L1098 935.6L1117.6 935.6L1137.2 937.8L1156.7 937.2L1176.3 936.9L1195.8 939.5L1215.4 939.4L1234.9 940.3L1254.5 940.3L1274 942.7L1293.6 942.1L1313.1 939.8L1332.7 936.9L1352.2 935L1371.8 932.9L1391.3 928.8L1410.9 927.3L1430.4 923.9L1450 919.4L1469.6 916.3L1489.1 914.7L1508.7 914.6L1528.2 913.9L1547.8 913.1L1567.3 911.8L1586.9 910.5L1606.4 908.7L1626 910.2L1645.5 912.9L1665.1 913.6L1684.6 913.2L1704.2 914.2L1723.7 917.1L1743.3 919.5L1762.8 920.7L1782.4 922.9L1802 924.2L1821.5 923.8L1841.1 922.6L1860.6 921.9L1880.2 922.9L1899.7 922.5L1919.3 919.6L1938.8 919.3L1958.4 921.2L1977.9 922.8L1997.5 924.9L2017 927L2036.6 929.3L2056.1 932.7L2075.7 935.1L2095.2 936.9" fill="none" stroke="#e6cb45" stroke-width="1.8" stroke-linejoin="round" stroke-linecap="round" />
<path d="M159.5 880.4L179.1 876.5L198.6 868.7L218.2 866L237.7 875.5L257.3 887.6L276.8 901.3L296.4 908.8L315.9 919.6L335.5 921.4L355 920.4L374.6 915.2L394.1 915.6L413.7 913.4L433.2 913.7L452.8 911L472.3 910.5L491.9 903.4L511.5 895.4L531 888.1L550.6 887.5L570.1 882.4L589.7 881.7L609.2 876.5L628.8 873.8L648.3 864.7L667.9 862.2L687.4 861.6L707 869.1L726.5 878.5L746.1 889.7L765.6 901.2L785.2 905.4L804.7 913L824.3 915L843.9 921.1L863.4 923.5L883 930.8L902.5 932.3L922.1 932.5L941.6 928.2L961.2 932.3L980.7 933.8L1000.3 931.9L1019.8 934.3L1039.4 937.3L1058.9 939.5L1078.5 936.8L1098 939.2L1117.6 937L1137.2 938.4L1156.7 934.9L1176.3 937L1195.8 939.7L1215.4 941.8L1234.9 942.3L1254.5 945.7L1274 948.3L1293.6 944.5L1313.1 937.9L1332.7 931.5L1352.2 924.2L1371.8 917.5L1391.3 913L1410.9 916.7L1430.4 916.3L1450 914.6L1469.6 915.2L1489.1 916.4L1508.7 912.4L1528.2 911.5L1547.8 911.7L1567.3 908.3L1586.9 904.5L1606.4 905.1L1626 908.9L1645.5 914.1L1665.1 918.9L1684.6 921.8L1704.2 923.4L1723.7 925.3L1743.3 924.8L1762.8 922.4L1782.4 924L1802 925.1L1821.5 922.3L1841.1 920.4L1860.6 921.3L1880.2 921.8L1899.7 919.9L1919.3 916.9L1938.8 918.1L1958.4 921.1L1977.9 923.7L1997.5 929.9L2017 937.1L2036.6 940.5L2056.1 944.2L2075.7 946.6L2095.2 944" fill="none" stroke="#cf3fe6" stroke-width="1.8" stroke-linejoin="round" stroke-linecap="round" />
<text x="152.5" y="844.3" font-size="28.5" fill="#9a9ca4">成交量</text>
<text x="330" y="844.3" font-size="28.5" fill="#9a9ca4">亿手</text>
<text x="489" y="844.3" font-size="28.5" fill="#9a9ca4">亿手</text>
<text x="665.5" y="844.3" font-size="28.5" fill="#9a9ca4">亿手</text>
<text x="840" y="844.3" font-size="28.5" fill="#9a9ca4">亿手</text>
<path d="M194.5 36.5L170.5 59.2L194.5 82" fill="none" stroke="#ececf3" stroke-width="5" stroke-linecap="square" stroke-linejoin="miter"/>
<path d="M508.5 36.5L532.5 59.2L508.5 82" fill="none" stroke="#ececf3" stroke-width="5" stroke-linecap="square" stroke-linejoin="miter"/>
<text x="254.5" y="76.3" font-size="45.5" font-weight="500" letter-spacing="-0.5" fill="#fbfbfb">中证</text>
<text x="1074" y="76.3" font-size="45.5" font-weight="500" fill="#8e9096">成交</text>
<text x="1296" y="76.3" font-size="45.5" font-weight="500" fill="#fbfbfb">亿手</text>
<text x="1663" y="76.3" font-size="45.5" font-weight="500" fill="#8e9096">时间</text>
<path d="M2287 38L2331 82M2331 38L2287 82" stroke="#ececf3" stroke-width="5" stroke-linecap="square" fill="none"/>
<text x="204.3" y="162.8" font-size="43.5" font-weight="500" letter-spacing="-1" fill="#a0a7bd">分时</text>
<text x="370.3" y="162.8" font-size="43.5" font-weight="500" letter-spacing="-1" fill="#a0a7bd">五日</text>
<text x="542" y="162.8" font-size="43.5" font-weight="bold" fill="#fbfbfb">日</text>
<rect x="561" y="183.5" width="34" height="8" rx="4" fill="#4a7fe0"/>
<text x="708.3" y="162.8" font-size="43.5" font-weight="500" fill="#a0a7bd">周</text>
<text x="877.2" y="162.8" font-size="43.5" font-weight="500" fill="#a0a7bd">月</text>
<text x="1018.3" y="162.8" font-size="43.5" font-weight="500" letter-spacing="-1" fill="#a0a7bd">更多</text>
<path d="M1114.5 142.5h17a1.5 1.5 0 0 1 1.2 2.4l-8.5 10a1.5 1.5 0 0 1-2.4 0l-8.5-10a1.5 1.5 0 0 1 1.2-2.4z" fill="#a0a7bd"/>
<text x="1214.7" y="162.8" font-size="43.5" font-weight="500" letter-spacing="-1" fill="#a0a7bd">个月</text>
<text x="1379.7" y="162.8" font-size="43.5" font-weight="500" letter-spacing="-1" fill="#a0a7bd">个月</text>
<text x="1534.8" y="162.8" font-size="43.5" font-weight="500" letter-spacing="-1" fill="#a0a7bd">半年</text>
<text x="1734.7" y="162.8" font-size="43.5" font-weight="500" fill="#a0a7bd">年</text>
<text x="1900.7" y="162.8" font-size="43.5" font-weight="500" fill="#a0a7bd">年</text>
<text x="2066.7" y="162.8" font-size="43.5" font-weight="500" fill="#a0a7bd">年</text>
<text x="2202.3" y="162.8" font-size="43.5" font-weight="500" letter-spacing="-1" fill="#a0a7bd">全部</text>
<text x="2186.5" y="279.1" font-size="34.5" letter-spacing="-0.5" fill="#a9afc2" stroke="#a9afc2" stroke-width="0.3">画线工具</text>
<text x="2190.5" y="407.1" font-size="34.5" letter-spacing="-0.5" fill="#a9afc2" stroke="#a9afc2" stroke-width="0.3">区间统计</text>
<g fill="none" stroke="#a9afc2" stroke-width="2.3" stroke-linecap="round" stroke-linejoin="round"><path d="M2158.2 250.6q1 -1.6 2.8 -1l7 2.6q1.700 .8 1.200 2.600l-8.800 24.800l-7.600 4.600q-1.300 .5 -1.500 -1l-2 -7.800z"/><path d="M2155.2 257.600l11.600 4.200"/><path d="M2167.300 277.800l8.800 -4.600q2.500 -1 3.500 .400q.9 1.500 -1.300 3.200l-3.800 2.800q-.8 1 .700 1l7 -1.400"/></g>
<g fill="none" stroke="#a9afc2" stroke-width="2" stroke-linecap="round" stroke-linejoin="round"><path d="M2145.8 377.300v36M2181 377.300v36" stroke-dasharray="5.200 3.300" stroke-linecap="butt"/><path d="M2154 399.400l5.800 -5l4.200 4.200l8.400 -9" stroke-width="2.5"/></g>
<text x="2184" y="964.4" font-size="34" font-weight="bold" fill="#4a7fe0">成交量</text>
<g clip-path="url(#clips)">
<text x="2185" y="1051.6" font-size="34.5" letter-spacing="-0.5" fill="#a9afc2" stroke="#a9afc2" stroke-width="0.3">成交额</text>
</g>
</svg>
<div class="t" style="left:1703px;top:235.9px;font-size:34px;color:#5b98ee;letter-spacing:-0.70px;">2730.45</div>
<div class="t" style="left:1118px;top:589.9px;font-size:34px;color:#5b98ee;letter-spacing:-0.63px;">2144.89</div>
<div class="t" style="left:156.5px;top:240.6px;font-size:28.3px;color:#a4acc6;letter-spacing:-1.11px;opacity:0.7;">2753.79</div>
<div class="t" style="left:156.5px;top:295.1px;font-size:28.3px;color:#a4acc6;letter-spacing:-1.11px;opacity:0.7;">2610.80</div>
<div class="t" style="left:156.5px;top:382.1px;font-size:28.3px;color:#a4acc6;letter-spacing:-1.11px;opacity:0.7;">2467.82</div>
<div class="t" style="left:156.5px;top:468.6px;font-size:28.3px;color:#a4acc6;letter-spacing:-1.11px;opacity:0.7;">2324.83</div>
<div class="t" style="left:156.5px;top:554.6px;font-size:28.3px;color:#a4acc6;letter-spacing:-1.11px;opacity:0.7;">2181.85</div>
<div class="t" style="left:156.5px;top:641.1px;font-size:28.3px;color:#a4acc6;letter-spacing:-1.11px;opacity:0.7;">2038.87</div>
<div class="t" style="left:156.5px;top:727.6px;font-size:28.3px;color:#a4acc6;letter-spacing:-1.11px;opacity:0.7;">1895.88</div>
<div class="t" style="left:435.2px;top:771.2px;font-size:31.5px;color:#8e9199;letter-spacing:-0.30px;">2024-12</div>
<div class="t" style="left:864.2px;top:771.2px;font-size:31.5px;color:#8e9199;letter-spacing:-0.30px;">2025-01</div>
<div class="t" style="left:1217.2px;top:771.2px;font-size:31.5px;color:#8e9199;letter-spacing:-0.30px;">2025-02</div>
<div class="t" style="left:1569.2px;top:771.2px;font-size:31.5px;color:#8e9199;letter-spacing:-0.30px;">2025-03</div>
<div class="t" style="left:1980.2px;top:771.2px;font-size:31.5px;color:#8e9199;letter-spacing:-0.30px;">2025-04</div>
<div class="t" style="left:152px;top:206.3px;font-size:30px;color:#9a9ca4;letter-spacing:0.25px;">MA</div>
<div class="t" style="left:216px;top:206.3px;font-size:30px;color:#cf3fe6;letter-spacing:-1.18px;">5</div>
<div class="t" style="left:231.5px;top:206.3px;font-size:30px;color:#9a9ca4;letter-spacing:0.09px;">:2461.32</div>
<div class="t" style="left:368px;top:206.3px;font-size:30px;color:#e6cb45;letter-spacing:-1.18px;">10</div>
<div class="t" style="left:399px;top:206.3px;font-size:30px;color:#9a9ca4;letter-spacing:0.09px;">:2521.04</div>
<div class="t" style="left:536.5px;top:206.3px;font-size:30px;color:#52aef0;letter-spacing:-1.18px;">20</div>
<div class="t" style="left:567.5px;top:206.3px;font-size:30px;color:#9a9ca4;letter-spacing:0.15px;">:2599.79</div>
<div class="t" style="left:704.5px;top:206.3px;font-size:30px;color:#8c6be6;letter-spacing:-1.18px;">30</div>
<div class="t" style="left:735.5px;top:206.3px;font-size:30px;color:#9a9ca4;letter-spacing:0.22px;">:2604.65</div>
<div class="t" style="left:872.5px;top:206.3px;font-size:30px;color:#c9bdb0;letter-spacing:-1.18px;">60</div>
<div class="t" style="left:903.5px;top:206.3px;font-size:30px;color:#9a9ca4;letter-spacing:0.22px;">:2495.55</div>
<div class="t" style="left:1041.5px;top:206.3px;font-size:30px;color:#e8a84e;letter-spacing:-0.68px;">120</div>
<div class="t" style="left:1089.5px;top:206.3px;font-size:30px;color:#9a9ca4;letter-spacing:0.15px;">:2446.71</div>
<div class="t" style="left:265px;top:819.3px;font-size:28.5px;color:#9a9ca4;letter-spacing:0.13px;">3.64</div>
<div class="t" style="left:398px;top:819.3px;font-size:28.5px;color:#cf3fe6;letter-spacing:-0.85px;">5</div>
<div class="t" style="left:413px;top:819.3px;font-size:28.5px;color:#9a9ca4;letter-spacing:0.65px;">:3.11</div>
<div class="t" style="left:558px;top:819.3px;font-size:28.5px;color:#e6cb45;letter-spacing:-0.60px;">10</div>
<div class="t" style="left:588.5px;top:819.3px;font-size:28.5px;color:#9a9ca4;letter-spacing:0.72px;">:3.33</div>
<div class="t" style="left:733px;top:819.3px;font-size:28.5px;color:#52aef0;letter-spacing:-0.60px;">20</div>
<div class="t" style="left:763.5px;top:819.3px;font-size:28.5px;color:#9a9ca4;letter-spacing:0.72px;">:3.55</div>
<div class="t" style="left:346px;top:36.7px;font-size:46px;color:#fbfbfb;letter-spacing:0.17px;-webkit-text-stroke:0.5px currentColor;">2000</div>
<div class="t" style="left:650px;top:36.7px;font-size:46px;color:#55b257;letter-spacing:0.25px;-webkit-text-stroke:0.5px currentColor;">2194.48</div>
<div class="t" style="left:1206px;top:37.2px;font-size:45px;color:#fbfbfb;letter-spacing:0.23px;-webkit-text-stroke:0.5px currentColor;">3.64</div>
<div class="t" style="left:1796px;top:37.2px;font-size:45px;color:#fbfbfb;letter-spacing:0.48px;-webkit-text-stroke:0.5px currentColor;">16:14</div>
<div class="t" style="left:585.3px;top:123.3px;font-size:47px;color:#fbfbfb;-webkit-text-stroke:1.2px currentColor;transform:scaleX(0.84);transform-origin:left center;">K</div>
<div class="t" style="left:751.6px;top:123.3px;font-size:47px;color:#a0a7bd;-webkit-text-stroke:0.6px currentColor;transform:scaleX(0.84);transform-origin:left center;">K</div>
<div class="t" style="left:920.5px;top:123.3px;font-size:47px;color:#a0a7bd;-webkit-text-stroke:0.6px currentColor;transform:scaleX(0.84);transform-origin:left center;">K</div>
<div class="t" style="left:1190.5px;top:125.3px;font-size:43px;color:#a0a7bd;-webkit-text-stroke:0.35px currentColor;">1</div>
<div class="t" style="left:1355.5px;top:125.3px;font-size:43px;color:#a0a7bd;-webkit-text-stroke:0.35px currentColor;">3</div>
<div class="t" style="left:1710.5px;top:125.3px;font-size:43px;color:#a0a7bd;-webkit-text-stroke:0.35px currentColor;">1</div>
<div class="t" style="left:1876.5px;top:125.3px;font-size:43px;color:#a0a7bd;-webkit-text-stroke:0.35px currentColor;">3</div>
<div class="t" style="left:2042.5px;top:125.3px;font-size:43px;color:#a0a7bd;-webkit-text-stroke:0.35px currentColor;">5</div>
<div class="t" style="left:2209px;top:488.4px;font-size:35px;color:#4a7fe0;font-weight:bold;letter-spacing:-0.22px;">MA</div>
<div class="t" style="left:2199.5px;top:574.1px;font-size:35px;color:#a9afc2;letter-spacing:-0.95px;">EMA</div>
<div class="t" style="left:2192px;top:660.6px;font-size:35px;color:#a9afc2;letter-spacing:-0.37px;">BOLL</div>
<div class="t" style="left:2202px;top:747.1px;font-size:35px;color:#a9afc2;letter-spacing:-1.99px;">SAR</div>
<div class="t" style="left:2202.5px;top:833.6px;font-size:35px;color:#a9afc2;letter-spacing:-2.32px;">ENE</div>
</body></html>
